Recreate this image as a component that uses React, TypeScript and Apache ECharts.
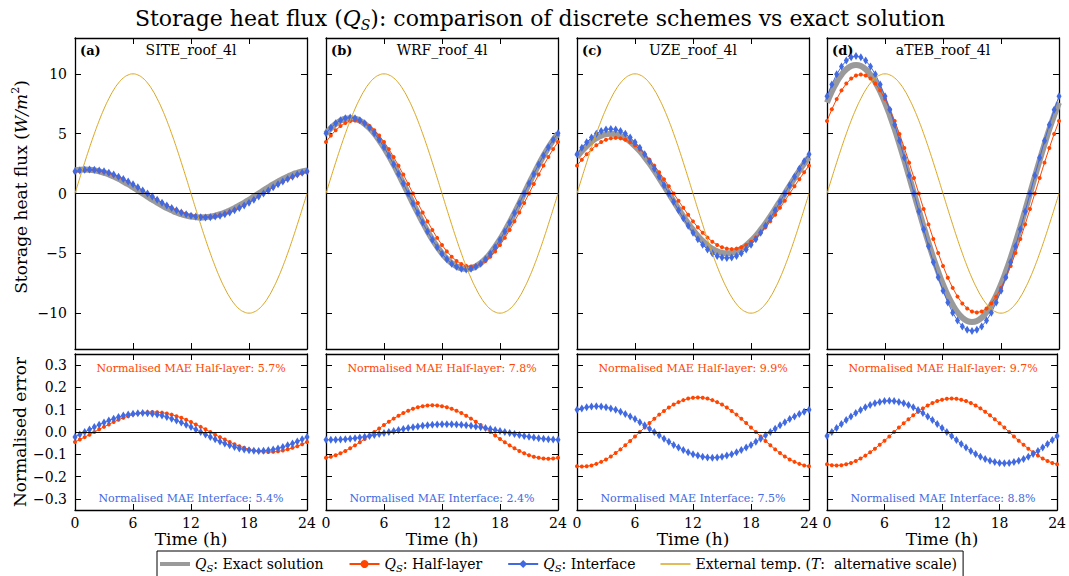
import React, { useEffect, useRef } from "react";
import * as echarts from "echarts";

// ---------------- data ----------------
const HOURS = [0,0.5,1,1.5,2,2.5,3,3.5,4,4.5,5,5.5,6,6.5,7,7.5,8,8.5,9,9.5,10,10.5,11,11.5,12,12.5,13,13.5,14,14.5,15,15.5,16,16.5,17,17.5,18,18.5,19,19.5,20,20.5,21,21.5,22,22.5,23,23.5,24];

const EXT_TEMP = [0,1.31,2.59,3.83,5,6.09,7.07,7.93,8.66,9.24,9.66,9.91,10,9.91,9.66,9.24,8.66,7.93,7.07,6.09,5,3.83,2.59,1.31,0,-1.31,-2.59,-3.83,-5,-6.09,-7.07,-7.93,-8.66,-9.24,-9.66,-9.91,-10,-9.91,-9.66,-9.24,-8.66,-7.93,-7.07,-6.09,-5,-3.83,-2.59,-1.31,0];

// (a) SITE
const A_EXACT = [1.93,1.98,2.0,1.98,1.93,1.85,1.73,1.59,1.41,1.22,1.0,0.77,0.52,0.26,0,-0.26,-0.52,-0.77,-1.0,-1.22,-1.41,-1.59,-1.73,-1.85,-1.93,-1.98,-2.0,-1.98,-1.93,-1.85,-1.73,-1.59,-1.41,-1.22,-1.0,-0.77,-0.52,-0.26,0,0.26,0.52,0.77,1.0,1.22,1.41,1.59,1.73,1.85,1.93];
const A_HALF = [1.80,1.88,1.93,1.95,1.93,1.88,1.80,1.69,1.55,1.38,1.19,0.98,0.75,0.50,0.25,0,-0.25,-0.5,-0.75,-0.98,-1.19,-1.38,-1.55,-1.69,-1.8,-1.88,-1.93,-1.95,-1.93,-1.88,-1.8,-1.69,-1.55,-1.38,-1.19,-0.98,-0.75,-0.5,-0.25,0,0.25,0.5,0.75,0.98,1.19,1.38,1.55,1.69,1.8];
const A_INTERFACE = [1.85,1.93,1.98,2.0,1.98,1.93,1.85,1.73,1.59,1.41,1.22,1.0,0.77,0.52,0.26,0,-0.26,-0.52,-0.77,-1.0,-1.22,-1.41,-1.59,-1.73,-1.85,-1.93,-1.98,-2.0,-1.98,-1.93,-1.85,-1.73,-1.59,-1.41,-1.22,-1.0,-0.77,-0.52,-0.26,0,0.26,0.52,0.77,1.0,1.22,1.41,1.59,1.73,1.85];
const A_ERR_HALF = [-0.045,-0.034,-0.023,-0.012,0,0.012,0.023,0.034,0.045,0.055,0.064,0.071,0.078,0.083,0.087,0.089,0.09,0.089,0.087,0.083,0.078,0.071,0.064,0.055,0.045,0.034,0.023,0.012,0,-0.012,-0.023,-0.034,-0.045,-0.055,-0.064,-0.071,-0.078,-0.083,-0.087,-0.089,-0.09,-0.089,-0.087,-0.083,-0.078,-0.071,-0.064,-0.055,-0.045];
const A_ERR_INTERFACE = [-0.022,-0.011,0,0.011,0.022,0.033,0.043,0.052,0.06,0.067,0.074,0.079,0.082,0.084,0.085,0.084,0.082,0.079,0.074,0.067,0.06,0.052,0.043,0.033,0.022,0.011,0,-0.011,-0.022,-0.033,-0.043,-0.052,-0.06,-0.067,-0.074,-0.079,-0.082,-0.084,-0.085,-0.084,-0.082,-0.079,-0.074,-0.067,-0.06,-0.052,-0.043,-0.033,-0.022];

// (b) WRF
const B_EXACT = [5.0,5.46,5.82,6.09,6.25,6.3,6.25,6.09,5.82,5.46,5.0,4.45,3.84,3.15,2.41,1.63,0.82,0,-0.82,-1.63,-2.41,-3.15,-3.84,-4.45,-5.0,-5.46,-5.82,-6.09,-6.25,-6.3,-6.25,-6.09,-5.82,-5.46,-5.0,-4.45,-3.84,-3.15,-2.41,-1.63,-0.82,0,0.82,1.63,2.41,3.15,3.84,4.45,5.0];
const B_HALF = [4.31,4.84,5.28,5.64,5.89,6.05,6.1,6.05,5.89,5.64,5.28,4.84,4.31,3.71,3.05,2.33,1.58,0.8,0,-0.8,-1.58,-2.33,-3.05,-3.71,-4.31,-4.84,-5.28,-5.64,-5.89,-6.05,-6.1,-6.05,-5.89,-5.64,-5.28,-4.84,-4.31,-3.71,-3.05,-2.33,-1.58,-0.8,0,0.8,1.58,2.33,3.05,3.71,4.31];
const B_INTERFACE = [5.04,5.5,5.87,6.13,6.3,6.35,6.3,6.13,5.87,5.5,5.04,4.49,3.87,3.18,2.43,1.64,0.83,0,-0.83,-1.64,-2.43,-3.18,-3.87,-4.49,-5.04,-5.5,-5.87,-6.13,-6.3,-6.35,-6.3,-6.13,-5.87,-5.5,-5.04,-4.49,-3.87,-3.18,-2.43,-1.64,-0.83,0,0.83,1.64,2.43,3.18,3.87,4.49,5.04];
const B_ERR_HALF = [-0.116,-0.111,-0.104,-0.095,-0.085,-0.073,-0.06,-0.046,-0.031,-0.016,0,0.016,0.031,0.046,0.06,0.073,0.085,0.095,0.104,0.111,0.116,0.119,0.12,0.119,0.116,0.111,0.104,0.095,0.085,0.073,0.06,0.046,0.031,0.016,0,-0.016,-0.031,-0.046,-0.06,-0.073,-0.085,-0.095,-0.104,-0.111,-0.116,-0.119,-0.12,-0.119,-0.116];
const B_ERR_INTERFACE = [-0.035,-0.035,-0.035,-0.034,-0.032,-0.03,-0.028,-0.025,-0.021,-0.018,-0.013,-0.009,-0.005,0,0.005,0.009,0.013,0.018,0.021,0.025,0.028,0.03,0.032,0.034,0.035,0.035,0.035,0.034,0.032,0.03,0.028,0.025,0.021,0.018,0.013,0.009,0.005,0,-0.005,-0.009,-0.013,-0.018,-0.021,-0.025,-0.028,-0.03,-0.032,-0.034,-0.035];

// (c) UZE
const C_EXACT = [3.04,3.54,3.97,4.33,4.62,4.83,4.96,5.0,4.96,4.83,4.62,4.33,3.97,3.54,3.04,2.5,1.91,1.29,0.65,0,-0.65,-1.29,-1.91,-2.5,-3.04,-3.54,-3.97,-4.33,-4.62,-4.83,-4.96,-5.0,-4.96,-4.83,-4.62,-4.33,-3.97,-3.54,-3.04,-2.5,-1.91,-1.29,-0.65,0,0.65,1.29,1.91,2.5,3.04];
const C_HALF = [2.33,2.83,3.29,3.69,4.03,4.3,4.49,4.61,4.65,4.61,4.49,4.3,4.03,3.69,3.29,2.83,2.33,1.78,1.2,0.61,0,-0.61,-1.2,-1.78,-2.33,-2.83,-3.29,-3.69,-4.03,-4.3,-4.49,-4.61,-4.65,-4.61,-4.49,-4.3,-4.03,-3.69,-3.29,-2.83,-2.33,-1.78,-1.2,-0.61,0,0.61,1.2,1.78,2.33];
const C_INTERFACE = [3.29,3.82,4.28,4.68,4.99,5.22,5.35,5.4,5.35,5.22,4.99,4.68,4.28,3.82,3.29,2.7,2.07,1.4,0.7,0,-0.7,-1.4,-2.07,-2.7,-3.29,-3.82,-4.28,-4.68,-4.99,-5.22,-5.35,-5.4,-5.35,-5.22,-4.99,-4.68,-4.28,-3.82,-3.29,-2.7,-2.07,-1.4,-0.7,0,0.7,1.4,2.07,2.7,3.29];
const C_ERR_HALF = [-0.154,-0.155,-0.154,-0.15,-0.143,-0.134,-0.123,-0.11,-0.094,-0.078,-0.059,-0.04,-0.02,0,0.02,0.04,0.059,0.078,0.094,0.11,0.123,0.134,0.143,0.15,0.154,0.155,0.154,0.15,0.143,0.134,0.123,0.11,0.094,0.078,0.059,0.04,0.02,0,-0.02,-0.04,-0.059,-0.078,-0.094,-0.11,-0.123,-0.134,-0.143,-0.15,-0.154];
const C_ERR_INTERFACE = [0.1,0.106,0.111,0.114,0.115,0.114,0.111,0.106,0.1,0.091,0.081,0.07,0.058,0.044,0.03,0.015,0,-0.015,-0.03,-0.044,-0.058,-0.07,-0.081,-0.091,-0.1,-0.106,-0.111,-0.114,-0.115,-0.114,-0.111,-0.106,-0.1,-0.091,-0.081,-0.07,-0.058,-0.044,-0.03,-0.015,0,0.015,0.03,0.044,0.058,0.07,0.081,0.091,0.1];

// (d) aTEB
const D_EXACT = [7.6,8.53,9.31,9.93,10.38,10.66,10.75,10.66,10.38,9.93,9.31,8.53,7.6,6.54,5.38,4.11,2.78,1.4,0,-1.4,-2.78,-4.11,-5.38,-6.54,-7.6,-8.53,-9.31,-9.93,-10.38,-10.66,-10.75,-10.66,-10.38,-9.93,-9.31,-8.53,-7.6,-6.54,-5.38,-4.11,-2.78,-1.4,0,1.4,2.78,4.11,5.38,6.54,7.6];
const D_HALF = [6.06,7.04,7.89,8.62,9.19,9.61,9.86,9.95,9.86,9.61,9.19,8.62,7.89,7.04,6.06,4.98,3.81,2.58,1.3,0,-1.3,-2.58,-3.81,-4.98,-6.06,-7.04,-7.89,-8.62,-9.19,-9.61,-9.86,-9.95,-9.86,-9.61,-9.19,-8.62,-7.89,-7.04,-6.06,-4.98,-3.81,-2.58,-1.3,0,1.3,2.58,3.81,4.98,6.06];
const D_INTERFACE = [8.13,9.12,9.96,10.62,11.11,11.4,11.5,11.4,11.11,10.62,9.96,9.12,8.13,7.0,5.75,4.4,2.98,1.5,0,-1.5,-2.98,-4.4,-5.75,-7.0,-8.13,-9.12,-9.96,-10.62,-11.11,-11.4,-11.5,-11.4,-11.11,-10.62,-9.96,-9.12,-8.13,-7.0,-5.75,-4.4,-2.98,-1.5,0,1.5,2.98,4.4,5.75,7.0,8.13];
const D_ERR_HALF = [-0.145,-0.149,-0.15,-0.149,-0.145,-0.139,-0.13,-0.119,-0.106,-0.091,-0.075,-0.057,-0.039,-0.02,0,0.02,0.039,0.057,0.075,0.091,0.106,0.119,0.13,0.139,0.145,0.149,0.15,0.149,0.145,0.139,0.13,0.119,0.106,0.091,0.075,0.057,0.039,0.02,0,-0.02,-0.039,-0.057,-0.075,-0.091,-0.106,-0.119,-0.13,-0.139,-0.145];
const D_ERR_INTERFACE = [-0.018,0,0.018,0.036,0.054,0.07,0.085,0.099,0.111,0.121,0.129,0.135,0.139,0.14,0.139,0.135,0.129,0.121,0.111,0.099,0.085,0.07,0.054,0.036,0.018,0,-0.018,-0.036,-0.054,-0.07,-0.085,-0.099,-0.111,-0.121,-0.129,-0.135,-0.139,-0.14,-0.139,-0.135,-0.129,-0.121,-0.111,-0.099,-0.085,-0.07,-0.054,-0.036,-0.018];

const PANEL_LETTERS = ["(a)", "(b)", "(c)", "(d)"];
const PANEL_NAMES = ["SITE_roof_4l", "WRF_roof_4l", "UZE_roof_4l", "aTEB_roof_4l"];
const MAE_HALF = ["5.7", "7.8", "9.9", "9.7"];
const MAE_INTERFACE = ["5.4", "2.4", "7.5", "8.8"];
const X_TICKS = [0, 6, 12, 18, 24];
const FLUX_TICKS = [-10, -5, 0, 5, 10];
const ERR_TICKS = [-0.3, -0.2, -0.1, 0, 0.1, 0.2, 0.3];

const EXACT_SERIES = [A_EXACT, B_EXACT, C_EXACT, D_EXACT];
const HALF_SERIES = [A_HALF, B_HALF, C_HALF, D_HALF];
const INTERFACE_SERIES = [A_INTERFACE, B_INTERFACE, C_INTERFACE, D_INTERFACE];
const ERR_HALF_SERIES = [A_ERR_HALF, B_ERR_HALF, C_ERR_HALF, D_ERR_HALF];
const ERR_INTERFACE_SERIES = [A_ERR_INTERFACE, B_ERR_INTERFACE, C_ERR_INTERFACE, D_ERR_INTERFACE];

// ---------------- style / layout ----------------
const FONT = "DejaVu Serif";
const GRAY = "#9a9a9a";
const RED = "#FF4500";
const BLUE = "#4169E1";
const GOLD = "#DAA520";
const PANEL_LEFT = [75, 326, 577, 827];
const PANEL_W = 232;
const TOP_Y = 38;
const TOP_H = 311;
const BOT_Y = 354;
const BOT_H = 156;

const minus = (s: string) => s.replace("-", "\u2212");
const pairs = (ys: number[]) => HOURS.map((h, i) => [h, ys[i]]);

const subRich = {
  t: { fontFamily: FONT, fontSize: 14, color: "#000", lineHeight: 18 },
  i: { fontFamily: FONT, fontSize: 14, fontStyle: "italic", color: "#000", lineHeight: 18 },
  s: { fontFamily: FONT, fontSize: 10, fontStyle: "italic", color: "#000", lineHeight: 10, verticalAlign: "bottom" },
};

const LEGEND_LABELS: Record<string, string> = {
  exact: "{i|Q}{s|S}{t|: Exact solution}",
  half: "{i|Q}{s|S}{t|: Half-layer}",
  interface: "{i|Q}{s|S}{t|: Interface}",
  temp: "{t|External temp. (}{i|T}{t|:  alternative scale)}",
};

function buildOption() {
  const grid: any[] = [];
  const xAxis: any[] = [];
  const yAxis: any[] = [];
  const series: any[] = [];
  const graphic: any[] = [];

  for (let g = 0; g < 8; g++) {
    const col = g % 4;
    const isTop = g < 4;
    grid.push({
      left: PANEL_LEFT[col],
      top: isTop ? TOP_Y : BOT_Y,
      width: PANEL_W,
      height: isTop ? TOP_H : BOT_H,
    });
    const tick = { show: true, inside: true, length: 6, lineStyle: { color: "#000", width: 1 } };
    const line = { show: true, onZero: false, lineStyle: { color: "#000", width: 1.3 } };
    ["bottom", "top"].forEach((pos) => {
      const main = pos === "bottom";
      xAxis.push({
        gridIndex: g,
        type: "value",
        position: pos,
        min: 0,
        max: 24,
        interval: 6,
        axisLine: line,
        axisTick: tick,
        splitLine: { show: false },
        axisLabel: {
          show: main && !isTop,
          fontFamily: FONT,
          fontSize: 14,
          color: "#000",
          margin: 6,
          customValues: X_TICKS,
        },
        name: main && !isTop ? "Time (h)" : "",
        nameLocation: "middle",
        nameGap: 17,
        nameTextStyle: { fontFamily: FONT, fontSize: 17, color: "#000", verticalAlign: "top" },
      });
    });
    ["left", "right"].forEach((pos) => {
      const main = pos === "left";
      const ticks = isTop ? FLUX_TICKS : ERR_TICKS;
      yAxis.push({
        gridIndex: g,
        type: "value",
        position: pos,
        min: isTop ? -13 : -0.35,
        max: isTop ? 13 : 0.35,
        axisLine: line,
        axisTick: { ...tick, customValues: ticks },
        splitLine: { show: false },
        axisLabel: {
          show: main && col === 0,
          customValues: ticks,
          fontFamily: FONT,
          fontSize: 14,
          color: "#000",
          margin: 8,
          formatter: (v: number) => minus(isTop ? String(v) : (Math.abs(v) < 1e-9 ? "0.0" : v.toFixed(1))),
        },
      });
    });
  }

  const zeroLine = {
    silent: true,
    symbol: ["none", "none"],
    label: { show: false },
    lineStyle: { color: "#000", width: 1, type: "solid" },
    data: [{ yAxis: 0 }],
  };

  for (let p = 0; p < 4; p++) {
    const ti = 2 * p;
    const bi = 2 * (p + 4);
    series.push({
      name: "exact", type: "line", xAxisIndex: ti, yAxisIndex: ti, z: 2,
      data: pairs(EXACT_SERIES[p]), symbol: "none", smooth: true,
      lineStyle: { color: GRAY, width: 6 }, itemStyle: { color: GRAY },
    });
    series.push({
      name: "half", type: "line", xAxisIndex: ti, yAxisIndex: ti, z: 3,
      data: pairs(HALF_SERIES[p]), symbol: "circle", symbolSize: 4,
      lineStyle: { color: RED, width: 1 }, itemStyle: { color: RED },
    });
    series.push({
      name: "interface", type: "line", xAxisIndex: ti, yAxisIndex: ti, z: 4,
      data: pairs(INTERFACE_SERIES[p]), symbol: "diamond", symbolSize: [5, 8],
      lineStyle: { color: BLUE, width: 1 }, itemStyle: { color: BLUE },
    });
    series.push({
      name: "temp", type: "line", xAxisIndex: ti, yAxisIndex: ti, z: 5,
      data: pairs(EXT_TEMP), symbol: "none", smooth: true,
      lineStyle: { color: GOLD, width: 1 }, itemStyle: { color: GOLD },
      markLine: zeroLine,
    });
    series.push({
      name: "half", type: "line", xAxisIndex: bi, yAxisIndex: bi, z: 3,
      data: pairs(ERR_HALF_SERIES[p]), symbol: "circle", symbolSize: 4,
      lineStyle: { color: RED, width: 1 }, itemStyle: { color: RED },
    });
    series.push({
      name: "interface", type: "line", xAxisIndex: bi, yAxisIndex: bi, z: 4,
      data: pairs(ERR_INTERFACE_SERIES[p]), symbol: "diamond", symbolSize: [5, 8],
      lineStyle: { color: BLUE, width: 1 }, itemStyle: { color: BLUE },
      markLine: zeroLine,
    });

    const cx = PANEL_LEFT[p] + PANEL_W / 2;
    graphic.push({
      type: "text", x: PANEL_LEFT[p] + 5, y: 50,
      style: { text: PANEL_LETTERS[p], fontFamily: FONT, fontSize: 13, fontWeight: "bold", fill: "#000", align: "left", verticalAlign: "middle" },
    });
    graphic.push({
      type: "text", x: cx, y: 50,
      style: { text: PANEL_NAMES[p], fontFamily: FONT, fontSize: 14, fill: "#000", align: "center", verticalAlign: "middle" },
    });
    graphic.push({
      type: "text", x: cx, y: 368,
      style: { text: `Normalised MAE Half-layer: ${MAE_HALF[p]}%`, fontFamily: FONT, fontSize: 11, fill: RED, align: "center", verticalAlign: "middle" },
    });
    graphic.push({
      type: "text", x: cx, y: 498,
      style: { text: `Normalised MAE Interface: ${MAE_INTERFACE[p]}%`, fontFamily: FONT, fontSize: 11, fill: BLUE, align: "center", verticalAlign: "middle" },
    });
  }

  // main title
  graphic.push({
    type: "text", x: 540, y: 18,
    style: {
      text: "{t|Storage heat flux (}{i|Q}{s|S}{t|): comparison of discrete schemes vs exact solution}",
      align: "center", verticalAlign: "middle",
      rich: {
        t: { fontFamily: FONT, fontSize: 22, fill: "#000", lineHeight: 28 },
        i: { fontFamily: FONT, fontSize: 22, fontStyle: "italic", fill: "#000", lineHeight: 28 },
        s: { fontFamily: FONT, fontSize: 14, fontStyle: "italic", fill: "#000", lineHeight: 14, verticalAlign: "bottom" },
      },
    },
  });
  // y-axis titles
  graphic.push({
    type: "text", x: 21, y: 187, rotation: Math.PI / 2,
    style: {
      text: "{t|Storage heat flux (}{i|W/m}{p|2}{t|)}",
      align: "center", verticalAlign: "middle",
      rich: {
        t: { fontFamily: FONT, fontSize: 17, fill: "#000", lineHeight: 22 },
        i: { fontFamily: FONT, fontSize: 17, fontStyle: "italic", fill: "#000", lineHeight: 22 },
        p: { fontFamily: FONT, fontSize: 11, fill: "#000", lineHeight: 11, verticalAlign: "top" },
      },
    },
  });
  graphic.push({
    type: "text", x: 20, y: 432, rotation: Math.PI / 2,
    style: { text: "Normalised error", fontFamily: FONT, fontSize: 17, fill: "#000", align: "center", verticalAlign: "middle" },
  });

  return {
    animation: false,
    backgroundColor: "#fff",
    grid,
    xAxis,
    yAxis,
    series,
    graphic,
    legend: {
      left: 157,
      top: 551,
      orient: "horizontal",
      data: [
        { name: "exact", icon: "path://M0,0L30,0L30,4L0,4Z", itemStyle: { color: GRAY } },
        { name: "half" },
        { name: "interface" },
        { name: "temp", icon: "path://M0,0L30,0L30,1.5L0,1.5Z", itemStyle: { color: GOLD } },
      ],
      itemWidth: 30,
      itemHeight: 10,
      itemGap: 25,
      symbolKeepAspect: true,
      borderColor: "#000",
      borderWidth: 1,
      borderRadius: 0,
      padding: [6, 6, 12, 3],
      selectedMode: false,
      formatter: (n: string) => LEGEND_LABELS[n],
      textStyle: { fontFamily: FONT, fontSize: 14, color: "#000", rich: subRich },
    },
  };
}

export default function App() {
  const ref = useRef<HTMLDivElement>(null);
  useEffect(() => {
    if (!ref.current) return;
    const chart = echarts.init(ref.current, undefined, { renderer: "svg" });
    chart.setOption(buildOption() as any);
    return () => chart.dispose();
  }, []);
  return (
    <div
      ref={ref}
      style={{ position: "fixed", left: 0, top: 0, width: 1069, height: 576, background: "#fff" }}
    />
  );
}
